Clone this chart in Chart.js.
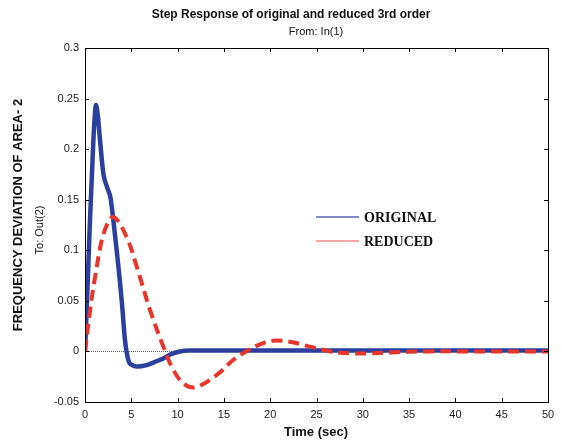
<!DOCTYPE html>
<html>
<head>
<meta charset="utf-8">
<script src="https://cdn.jsdelivr.net/npm/chart.js@4/dist/chart.umd.min.js"></script>
<style>
  html, body { margin: 0; padding: 0; background: #fff; }
  #wrap { width: 562px; height: 445px; }
</style>
</head>
<body>
<div id="wrap"><canvas id="c" width="562" height="445"></canvas></div>
<script>
// Step response samples (time in seconds, frequency deviation)
const origTime  = [0, 0.2, 0.54, 0.83, 1.0, 1.19, 1.4, 1.62, 1.98, 2.4, 2.75, 3.06, 3.42, 3.96, 4.32, 4.68, 5.1, 5.58, 6.66, 7.5, 8.45, 9.2, 10.26, 11.3, 15, 20, 30, 40, 50];
const origValue = [0, 0.045, 0.13, 0.193, 0.225, 0.2437, 0.232, 0.209, 0.176, 0.162, 0.152, 0.13, 0.1, 0.051, 0.011, -0.0085, -0.0135, -0.015, -0.0135, -0.0105, -0.007, -0.003, 0, 0.0008, 0.001, 0.001, 0.001, 0.001, 0.001];

const redTime  = [0, 0.54, 1.08, 2.0, 3.06, 4.5, 5.58, 7.02, 8.45, 9.53, 10.6, 11.9, 14.2, 16.0, 17.4, 18.9, 20.3, 22.1, 24.3, 26.5, 28.6, 30.4, 33, 37, 42, 50];
const redValue = [0, 0.04, 0.073, 0.116, 0.133, 0.113, 0.084, 0.041, 0.005, -0.018, -0.0315, -0.0355, -0.0235, -0.0085, 0, 0.007, 0.0106, 0.0096, 0.0047, 0, -0.0019, -0.002, -0.001, 0, 0, 0];

const xTicks = [0, 5, 10, 15, 20, 25, 30, 35, 40, 45, 50];
const yTicks = [-0.05, 0, 0.05, 0.1, 0.15, 0.2, 0.25, 0.3];

const seriesNames = ['ORIGINAL', 'REDUCED'];
const blue = '#2d3f9e';
const red = '#e8352b';

const toPts = (xs, ys) => xs.map((x, i) => ({ x, y: ys[i] }));

// Titles, legend and inward tick marks drawn on the canvas
const decor = {
  id: 'decor',
  afterDraw(chart) {
    const { ctx, chartArea: a, scales } = chart;
    const xs = scales.x, ys = scales.y;
    ctx.save();
    ctx.strokeStyle = '#000';
    ctx.lineWidth = 1;
    ctx.beginPath();
    xTicks.forEach(v => {
      const px = Math.round(xs.getPixelForValue(v)) + 0.5;
      ctx.moveTo(px, a.bottom); ctx.lineTo(px, a.bottom - 4);
      ctx.moveTo(px, a.top); ctx.lineTo(px, a.top + 4);
    });
    yTicks.forEach(v => {
      const py = Math.round(ys.getPixelForValue(v)) + 0.5;
      ctx.moveTo(a.left, py); ctx.lineTo(a.left + 4, py);
      ctx.moveTo(a.right, py); ctx.lineTo(a.right - 4, py);
    });
    ctx.stroke();
    ctx.strokeRect(Math.round(a.left) + 0.5, Math.round(a.top) + 0.5, Math.round(a.right - a.left), Math.round(a.bottom - a.top));

    ctx.fillStyle = '#111';
    ctx.textAlign = 'center';
    ctx.textBaseline = 'middle';
    ctx.font = 'bold 12px "Liberation Sans", Arial, sans-serif';
    ctx.fillText('Step Response of original and reduced 3rd order', 291, 15);
    ctx.font = '11px "Liberation Sans", Arial, sans-serif';
    ctx.fillText('From: In(1)', 316, 32);
    ctx.font = 'bold 13px "Liberation Sans", Arial, sans-serif';
    ctx.fillText('Time (sec)', 316, 432);

    ctx.save();
    ctx.translate(18, 215);
    ctx.rotate(-Math.PI / 2);
    ctx.font = 'bold 13px "Liberation Sans", Arial, sans-serif';
    ctx.fillText('FREQUENCY DEVIATION OF AREA- 2', 0, 0);
    ctx.restore();
    ctx.save();
    ctx.translate(40, 230);
    ctx.rotate(-Math.PI / 2);
    ctx.font = '11px "Liberation Sans", Arial, sans-serif';
    ctx.fillText('To: Out(2)', 0, 0);
    ctx.restore();

    // legend
    const items = [[seriesNames[0], '#5566b5', 217], [seriesNames[1], '#f08a85', 241]];
    ctx.textAlign = 'left';
    ctx.font = 'bold 14px "Liberation Serif", "Times New Roman", serif';
    items.forEach(([label, col, y]) => {
      ctx.strokeStyle = col;
      ctx.lineWidth = 1.5;
      ctx.beginPath();
      ctx.moveTo(316, y); ctx.lineTo(359, y);
      ctx.stroke();
      ctx.fillStyle = '#111';
      ctx.fillText(label, 364, y + 1);
    });
    ctx.restore();
  }
};

new Chart(document.getElementById('c'), {
  type: 'line',
  data: {
    datasets: [
      {
        label: 'zero',
        data: [{ x: 0, y: 0 }, { x: 50, y: 0 }],
        borderColor: '#333',
        borderWidth: 0.8,
        borderDash: [1, 1],
        pointRadius: 0,
        order: 3
      },
      {
        label: seriesNames[0],
        data: toPts(origTime, origValue),
        borderColor: blue,
        borderWidth: 4.5,
        pointRadius: 0,
        cubicInterpolationMode: 'monotone',
        order: 2
      },
      {
        label: seriesNames[1],
        data: toPts(redTime, redValue),
        borderColor: red,
        borderWidth: 4,
        borderDash: [11, 6],
        pointRadius: 0,
        tension: 0.35,
        order: 1
      }
    ]
  },
  options: {
    responsive: false,
    animation: false,
    layout: { padding: { left: 0, right: 14, top: 48, bottom: 0 } },
    plugins: { legend: { display: false }, tooltip: { enabled: false } },
    scales: {
      x: {
        type: 'linear',
        min: 0, max: 50,
        afterBuildTicks: s => { s.ticks = xTicks.map(v => ({ value: v })); },
        afterFit: s => { s.height = 43; },
        grid: { display: false, drawTicks: false },
        border: { display: false },
        ticks: { color: '#222', padding: 6, font: { size: 11, family: '"Liberation Sans", Arial, sans-serif' }, maxRotation: 0, callback: v => String(v) }
      },
      y: {
        type: 'linear',
        min: -0.05, max: 0.3,
        afterBuildTicks: s => { s.ticks = yTicks.map(v => ({ value: v })); },
        afterFit: s => { s.width = 85; },
        grid: { display: false, drawTicks: false },
        border: { display: false },
        ticks: { color: '#222', padding: 6, font: { size: 11, family: '"Liberation Sans", Arial, sans-serif' }, callback: v => String(Math.round(v * 100) / 100) }
      }
    }
  },
  plugins: [decor]
});
</script>
</body>
</html>
